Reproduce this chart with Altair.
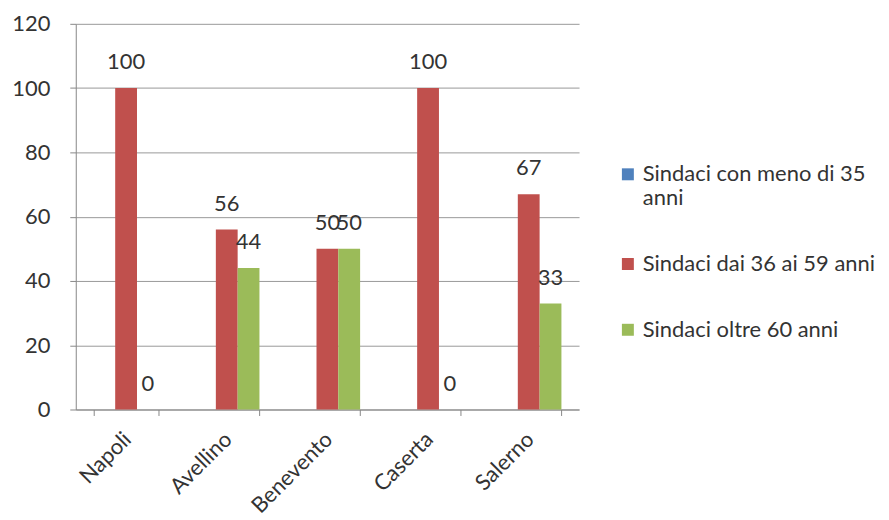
import altair as alt
import pandas as pd

citta = ["Napoli", "Avellino", "Benevento", "Caserta", "Salerno"]
serie = ["Sindaci con meno di 35 anni", "Sindaci dai 36 ai 59 anni", "Sindaci oltre 60 anni"]
meno35 = [0, 0, 0, 0, 0]
da36a59 = [100, 56, 50, 100, 67]
oltre60 = [0, 44, 50, 0, 33]
colori = ["#4F81BD", "#C0504D", "#9BBB59"]

rows = []
for i, c in enumerate(citta):
    for s, vals in zip(serie, [meno35, da36a59, oltre60]):
        rows.append({"Città": c, "Serie": s, "Valore": vals[i], "Etichetta": s != serie[0]})
df = pd.DataFrame(rows)

FONT = "Lato"
TXT = "#333333"

x = alt.X("Città:N", sort=citta, title=None,
          scale=alt.Scale(paddingInner=0.35, paddingOuter=0.175),
          axis=alt.Axis(labelAngle=-45, labelFontSize=22, labelFont=FONT, labelColor=TXT,
                        tickBand="extent", tickSize=6, tickColor="#888888",
                        domainColor="#888888", labelPadding=13, labelOffset=-6, grid=False))
xo = alt.XOffset("Serie:N", sort=serie)
y = alt.Y("Valore:Q", title=None,
          scale=alt.Scale(domain=[0, 120]),
          axis=alt.Axis(values=[0, 20, 40, 60, 80, 100, 120], labelFontSize=22, labelFont=FONT,
                        labelColor=TXT, tickSize=6, tickColor="#888888", domainColor="#888888",
                        gridColor="#999999", labelPadding=20))

bars = alt.Chart(df).mark_bar().encode(
    x=x, xOffset=xo, y=y,
    color=alt.Color("Serie:N", sort=serie,
                    scale=alt.Scale(domain=serie, range=colori),
                    legend=alt.Legend(title=None, orient="none", legendX=543, legendY=140,
                                      labelFont=FONT, labelFontSize=22, labelColor=TXT,
                                      symbolType="square", symbolSize=144, symbolStrokeWidth=0,
                                      labelLimit=400, rowPadding=44, labelOffset=4,
                                      labelExpr="datum.label == 'Sindaci con meno di 35 anni' ? ['Sindaci con meno di 35', 'anni'] : datum.label"))
)

labels = alt.Chart(df).transform_filter("datum.Etichetta").mark_text(
    font=FONT, fontSize=22, color=TXT, baseline="middle", dy=-26
).encode(x=x, xOffset=xo, y=y, text=alt.Text("Valore:Q"))

chart = alt.layer(bars, labels).properties(
    width=505, height=387, padding={"left": 3, "top": 4, "right": 5, "bottom": 2}
).configure_view(stroke=None).configure_axis(domainWidth=1)

chart.save("out.html", embed_options={"renderer": "svg", "actions": False})
